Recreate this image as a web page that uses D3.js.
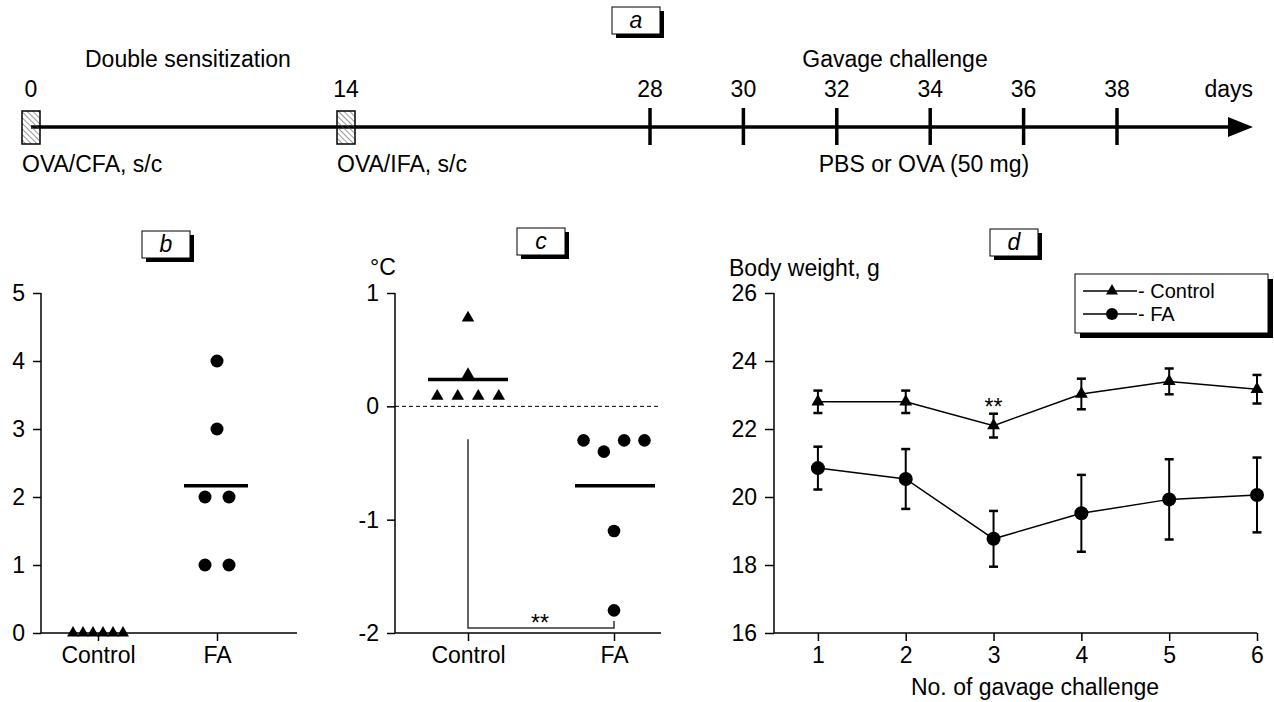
<!DOCTYPE html>
<html>
<head>
<meta charset="utf-8">
<script src="https://cdn.jsdelivr.net/npm/d3@7"></script>
<style>
  body { margin: 0; background: #fff; }
  svg { font-family: "Liberation Sans", Arial, sans-serif; }
</style>
</head>
<body>
<script>
const width = 1274, height = 702;

// a: timeline
const sensDays = [0, 14];
const challengeDays = [28, 30, 32, 34, 36, 38];
const dayLabels = [0, 14, 28, 30, 32, 34, 36, 38];

// b: symptom score
const groups = ["Control", "FA"];
const scoreControl = [0, 0, 0, 0, 0, 0];
const scoreFA = [4, 3, 2, 2, 1, 1];
const scoreTicks = [0, 1, 2, 3, 4, 5];

// c: temperature change, °C
const tempControl = [0.78, 0.28, 0.09, 0.09, 0.09, 0.09];
const tempFA = [-0.3, -0.4, -0.3, -0.3, -1.1, -1.8];
const tempTicks = [-2, -1, 0, 1];

// d: body weight, g
const challengeNo = [1, 2, 3, 4, 5, 6];
const weightControl = [22.8, 22.8, 22.1, 23.03, 23.4, 23.17];
const weightControlErr = [0.33, 0.33, 0.35, 0.45, 0.38, 0.42];
const weightFA = [20.85, 20.53, 18.77, 19.52, 19.93, 20.06];
const weightFAErr = [0.63, 0.88, 0.82, 1.13, 1.18, 1.1];
const weightTicks = [16, 18, 20, 22, 24, 26];

const FS = 23;
const plain = d => String(d);   // keeps "-1" with a plain hyphen like the original

const svg = d3.select("body").append("svg")
    .attr("width", width)
    .attr("height", height)
    .attr("viewBox", [0, 0, width, height]);

const defs = svg.append("defs");
defs.append("pattern")
    .attr("id", "hatch")
    .attr("patternUnits", "userSpaceOnUse")
    .attr("width", 4).attr("height", 4)
    .attr("patternTransform", "rotate(-45)")
  .append("line")
    .attr("x1", 0).attr("y1", 0).attr("x2", 0).attr("y2", 4)
    .attr("stroke", "#555").attr("stroke-width", 1.2);

// letter box with drop shadow
function letterBox(x, y, letter) {
  const g = svg.append("g");
  g.append("rect").attr("x", x + 4).attr("y", y + 4).attr("width", 48).attr("height", 27).attr("fill", "#000");
  g.append("rect").attr("x", x).attr("y", y).attr("width", 48).attr("height", 27)
      .attr("fill", "#fff").attr("stroke", "#000").attr("stroke-width", 1);
  g.append("text").attr("x", x + 24).attr("y", y + 21)
      .attr("text-anchor", "middle").attr("font-style", "italic")
      .attr("font-size", FS).text(letter);
}

// spread points with (almost) equal values side by side
function spread(values, tol, gap) {
  const out = [];
  let i = 0;
  while (i < values.length) {
    let j = i;
    while (j + 1 < values.length && Math.abs(values[j + 1] - values[i]) <= tol) j++;
    const n = j - i + 1;
    for (let k = 0; k < n; k++) out.push({v: values[i + k], dx: (k - (n - 1) / 2) * gap});
    i = j + 1;
  }
  return out;
}

const triangle = size => d3.symbol().type(d3.symbolTriangle).size(size);

// ---------- a: timeline ----------
{
  const x = d3.scaleLinear().domain([0, 14, 28, 38]).range([31, 346, 650, 1117]);
  const ly = 127;
  const g = svg.append("g");

  g.append("line").attr("x1", x(0)).attr("x2", 1230).attr("y1", ly).attr("y2", ly)
      .attr("stroke", "#000").attr("stroke-width", 3.5);
  g.append("path").attr("d", `M1228,${ly - 10}L1253,${ly}L1228,${ly + 10}Z`).attr("fill", "#000");

  g.selectAll("rect.sens").data(sensDays).join("rect")
      .attr("class", "sens")
      .attr("x", d => x(d) - 9).attr("y", ly - 16)
      .attr("width", 18).attr("height", 33)
      .attr("fill", "url(#hatch)").attr("stroke", "#000").attr("stroke-width", 1.5);

  g.selectAll("line.tick").data(challengeDays).join("line")
      .attr("class", "tick")
      .attr("x1", d => x(d)).attr("x2", d => x(d))
      .attr("y1", ly - 19).attr("y2", ly + 18)
      .attr("stroke", "#000").attr("stroke-width", 3.5);

  g.selectAll("text.day").data(dayLabels).join("text")
      .attr("class", "day")
      .attr("x", d => x(d)).attr("y", 97)
      .attr("text-anchor", "middle").attr("font-size", FS)
      .text(d => d);

  g.append("text").attr("x", 1253).attr("y", 97).attr("text-anchor", "end")
      .attr("font-size", FS).text("days");
  g.append("text").attr("x", 85).attr("y", 67).attr("font-size", FS).text("Double sensitization");
  g.append("text").attr("x", 895).attr("y", 67).attr("text-anchor", "middle")
      .attr("font-size", FS).text("Gavage challenge");
  g.append("text").attr("x", x(0) - 9).attr("y", 172).attr("font-size", FS).text("OVA/CFA, s/c");
  g.append("text").attr("x", x(14) - 9).attr("y", 172).attr("font-size", FS).text("OVA/IFA, s/c");
  g.append("text").attr("x", 924).attr("y", 172).attr("text-anchor", "middle")
      .attr("font-size", FS).text("PBS or OVA (50 mg)");

  letterBox(612, 7, "a");
}

function styleAxis(sel) {
  sel.select(".domain").remove();
  sel.selectAll(".tick line").attr("stroke", "#000").attr("stroke-width", 1.5);
  sel.selectAll(".tick text").attr("font-size", FS).attr("fill", "#000")
      .attr("font-family", "Liberation Sans, Arial, sans-serif");
}

// ---------- b: scores ----------
{
  const y = d3.scaleLinear().domain([0, 5]).range([633, 293]);
  const x = d3.scalePoint().domain(groups).range([98, 217]);
  const g = svg.append("g");

  g.append("g").attr("transform", "translate(41,0)")
      .call(d3.axisLeft(y).tickValues(scoreTicks).tickFormat(plain).tickSize(8).tickPadding(8))
      .call(styleAxis);
  g.append("g").attr("transform", "translate(0,633)")
      .call(d3.axisBottom(x).tickSize(8).tickPadding(6))
      .call(styleAxis);
  g.append("line").attr("x1", 41).attr("x2", 41).attr("y1", 293).attr("y2", 633)
      .attr("stroke", "#000").attr("stroke-width", 1.5);
  g.append("line").attr("x1", 41).attr("x2", 297).attr("y1", 633).attr("y2", 633)
      .attr("stroke", "#000").attr("stroke-width", 1.5);

  const fa = spread(scoreFA, 0, 24);
  g.selectAll("circle").data(fa).join("circle")
      .attr("cx", d => x("FA") + d.dx).attr("cy", d => y(d.v)).attr("r", 6.5);
  g.append("line")
      .attr("x1", x("FA") - 33).attr("x2", x("FA") + 31)
      .attr("y1", y(d3.mean(scoreFA))).attr("y2", y(d3.mean(scoreFA)))
      .attr("stroke", "#000").attr("stroke-width", 3.5);

  const ctl = spread(scoreControl, 0, 10);
  g.selectAll("path.tri").data(ctl).join("path")
      .attr("class", "tri")
      .attr("d", triangle(62))
      .attr("transform", d => `translate(${x("Control") + d.dx},${y(d.v)})`);

  letterBox(142, 231, "b");
}

// ---------- c: temperature ----------
{
  const y = d3.scaleLinear().domain([-2, 1]).range([633, 293]);
  const x = d3.scalePoint().domain(groups).range([468, 614]);
  const g = svg.append("g");

  g.append("g").attr("transform", "translate(395,0)")
      .call(d3.axisLeft(y).tickValues(tempTicks).tickFormat(plain).tickSize(8).tickPadding(8))
      .call(styleAxis);
  g.append("g").attr("transform", "translate(0,633)")
      .call(d3.axisBottom(x).tickSize(8).tickPadding(6))
      .call(styleAxis);
  g.append("line").attr("x1", 395).attr("x2", 395).attr("y1", 293).attr("y2", 633)
      .attr("stroke", "#000").attr("stroke-width", 1.5);
  g.append("line").attr("x1", 395).attr("x2", 661).attr("y1", 633).attr("y2", 633)
      .attr("stroke", "#000").attr("stroke-width", 1.5);
  g.append("line").attr("x1", 395).attr("x2", 661).attr("y1", y(0)).attr("y2", y(0))
      .attr("stroke", "#000").attr("stroke-width", 1).attr("stroke-dasharray", "4,3");

  g.append("text").attr("x", 370).attr("y", 275).attr("font-size", FS).text("°C");

  // significance bracket
  g.append("path")
      .attr("d", `M${x("Control")},${y(-0.3) - 1}V628H${x("FA")}V621`)
      .attr("fill", "none").attr("stroke", "#333").attr("stroke-width", 1.5);
  g.append("text").attr("x", 540).attr("y", 631).attr("text-anchor", "middle")
      .attr("font-size", FS).text("**");

  const ctl = spread(tempControl, 0.05, 20.5);
  g.selectAll("path.tri").data(ctl).join("path")
      .attr("class", "tri")
      .attr("d", triangle(68))
      .attr("transform", d => `translate(${x("Control") + d.dx},${y(d.v)})`);
  g.append("line")
      .attr("x1", x("Control") - 40).attr("x2", x("Control") + 40)
      .attr("y1", y(d3.mean(tempControl))).attr("y2", y(d3.mean(tempControl)))
      .attr("stroke", "#000").attr("stroke-width", 3.5);

  const fa = spread(tempFA, 0.15, 20.3);
  g.selectAll("circle").data(fa).join("circle")
      .attr("cx", d => x("FA") + d.dx).attr("cy", d => y(d.v)).attr("r", 6.3);
  g.append("line")
      .attr("x1", x("FA") - 39).attr("x2", x("FA") + 41)
      .attr("y1", y(d3.mean(tempFA))).attr("y2", y(d3.mean(tempFA)))
      .attr("stroke", "#000").attr("stroke-width", 3.5);

  letterBox(517, 228, "c");
}

// ---------- d: body weight ----------
{
  const y = d3.scaleLinear().domain([16, 26]).range([633, 293]);
  const x = d3.scaleLinear().domain([0.5, 6]).range([774, 1257]);
  const g = svg.append("g");

  g.append("g").attr("transform", "translate(774,0)")
      .call(d3.axisLeft(y).tickValues(weightTicks).tickFormat(plain).tickSize(9).tickPadding(8))
      .call(styleAxis);
  g.append("g").attr("transform", "translate(0,633)")
      .call(d3.axisBottom(x).tickValues(challengeNo).tickFormat(plain).tickSize(8).tickPadding(6))
      .call(styleAxis);
  g.append("line").attr("x1", 774).attr("x2", 774).attr("y1", 293).attr("y2", 633)
      .attr("stroke", "#000").attr("stroke-width", 1.5);
  g.append("line").attr("x1", 774).attr("x2", 1257).attr("y1", 633).attr("y2", 633)
      .attr("stroke", "#000").attr("stroke-width", 1.5);

  g.append("text").attr("x", 729).attr("y", 276).attr("font-size", FS).text("Body weight, g");
  g.append("text").attr("x", 1035).attr("y", 695).attr("text-anchor", "middle")
      .attr("font-size", FS).text("No. of gavage challenge");

  const series = [
    {name: "FA", mean: weightFA, err: weightFAErr, marker: "circle"},
    {name: "Control", mean: weightControl, err: weightControlErr, marker: "triangle"}
  ];

  const line = d3.line().x(d => x(d.n)).y(d => y(d.m));

  series.forEach(s => {
    const pts = challengeNo.map((n, i) => ({n, m: s.mean[i], e: s.err[i]}));
    const sg = g.append("g");
    sg.append("path").datum(pts).attr("d", line)
        .attr("fill", "none").attr("stroke", "#000").attr("stroke-width", 1.5);
    const eb = sg.selectAll("g.err").data(pts).join("g").attr("class", "err")
        .attr("stroke", "#000").attr("stroke-width", 2);
    eb.append("line").attr("x1", d => x(d.n)).attr("x2", d => x(d.n))
        .attr("y1", d => y(d.m - d.e)).attr("y2", d => y(d.m + d.e));
    eb.append("line").attr("x1", d => x(d.n) - 4.5).attr("x2", d => x(d.n) + 4.5)
        .attr("y1", d => y(d.m + d.e)).attr("y2", d => y(d.m + d.e)).attr("stroke-width", 2.5);
    eb.append("line").attr("x1", d => x(d.n) - 4.5).attr("x2", d => x(d.n) + 4.5)
        .attr("y1", d => y(d.m - d.e)).attr("y2", d => y(d.m - d.e)).attr("stroke-width", 2.5);
    if (s.marker === "circle") {
      sg.selectAll("circle").data(pts).join("circle")
          .attr("cx", d => x(d.n)).attr("cy", d => y(d.m)).attr("r", 7);
    } else {
      sg.selectAll("path.tri").data(pts).join("path").attr("class", "tri")
          .attr("d", triangle(72))
          .attr("transform", d => `translate(${x(d.n)},${y(d.m)})`);
    }
  });

  g.append("text").attr("x", x(3)).attr("y", 415).attr("text-anchor", "middle")
      .attr("font-size", FS).text("**");

  // legend
  const lg = g.append("g");
  lg.append("rect").attr("x", 1080).attr("y", 279).attr("width", 193).attr("height", 59).attr("fill", "#000");
  lg.append("rect").attr("x", 1075).attr("y", 274).attr("width", 193).attr("height", 59)
      .attr("fill", "#fff").attr("stroke", "#000").attr("stroke-width", 1);
  const items = [{name: "Control", marker: "triangle"}, {name: "FA", marker: "circle"}];
  const ly = d3.scalePoint().domain(items.map(d => d.name)).range([291, 314]);
  items.forEach(it => {
    const yy = ly(it.name);
    lg.append("line").attr("x1", 1083).attr("x2", 1137).attr("y1", yy).attr("y2", yy)
        .attr("stroke", "#000").attr("stroke-width", 1.5);
    if (it.marker === "circle") {
      lg.append("circle").attr("cx", 1112).attr("cy", yy).attr("r", 6);
    } else {
      lg.append("path").attr("d", triangle(62)).attr("transform", `translate(1112,${yy})`);
    }
    lg.append("text").attr("x", 1138).attr("y", yy + 7).attr("font-size", 20).text("- " + it.name);
  });

  letterBox(990, 229, "d");
}
</script>
</body>
</html>
